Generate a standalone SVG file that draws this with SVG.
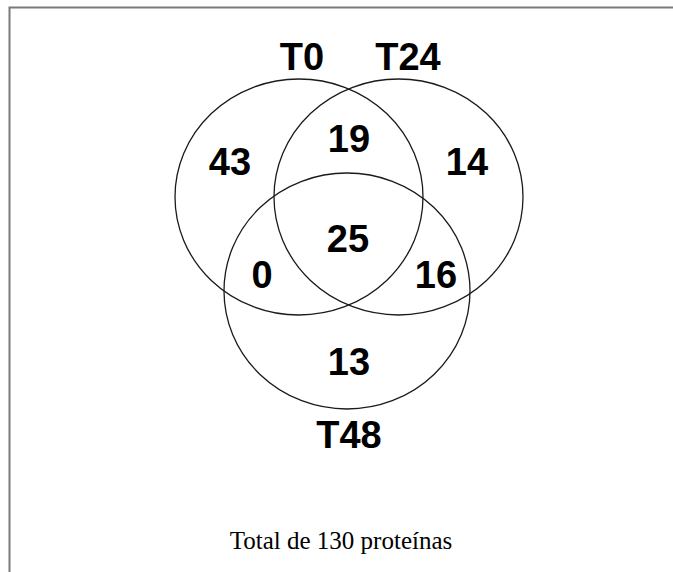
<svg xmlns="http://www.w3.org/2000/svg" width="673" height="572" viewBox="0 0 673 572">
<style>
.set{fill:none;stroke:#1a1a1a;stroke-width:1.3}
.lbl{font-family:"Liberation Sans",Arial,sans-serif;font-weight:bold;font-size:38px;fill:#000;text-anchor:middle}
.cap{font-family:"Liberation Serif","Times New Roman",serif;font-size:25px;fill:#000;text-anchor:middle}
.frame{stroke:#7a7a7a;stroke-width:2;fill:none}
</style>
<rect width="673" height="572" fill="#fff"/>
<g id="frame">
<polyline class="frame" points="9.5,572 9.5,7.5 673,7.5"/>
</g>
<g id="set-T0">
<ellipse class="set" cx="299" cy="197" rx="124" ry="118"/>
<text class="lbl" x="302" y="70">T0</text>
</g>
<g id="set-T24">
<ellipse class="set" cx="398.5" cy="197" rx="124.5" ry="118"/>
<text class="lbl" x="408" y="70">T24</text>
</g>
<g id="set-T48">
<ellipse class="set" cx="347" cy="291" rx="123" ry="118"/>
<text class="lbl" x="349" y="448">T48</text>
</g>
<g id="counts">
<text class="lbl" x="230" y="175">43</text>
<text class="lbl" x="349" y="152">19</text>
<text class="lbl" x="467" y="175">14</text>
<text class="lbl" x="348" y="252">25</text>
<text class="lbl" x="262" y="288">0</text>
<text class="lbl" x="436" y="288">16</text>
<text class="lbl" x="349" y="375">13</text>
</g>
<g id="caption">
<text class="cap" x="341" y="549">Total de 130 proteínas</text>
</g>
</svg>
